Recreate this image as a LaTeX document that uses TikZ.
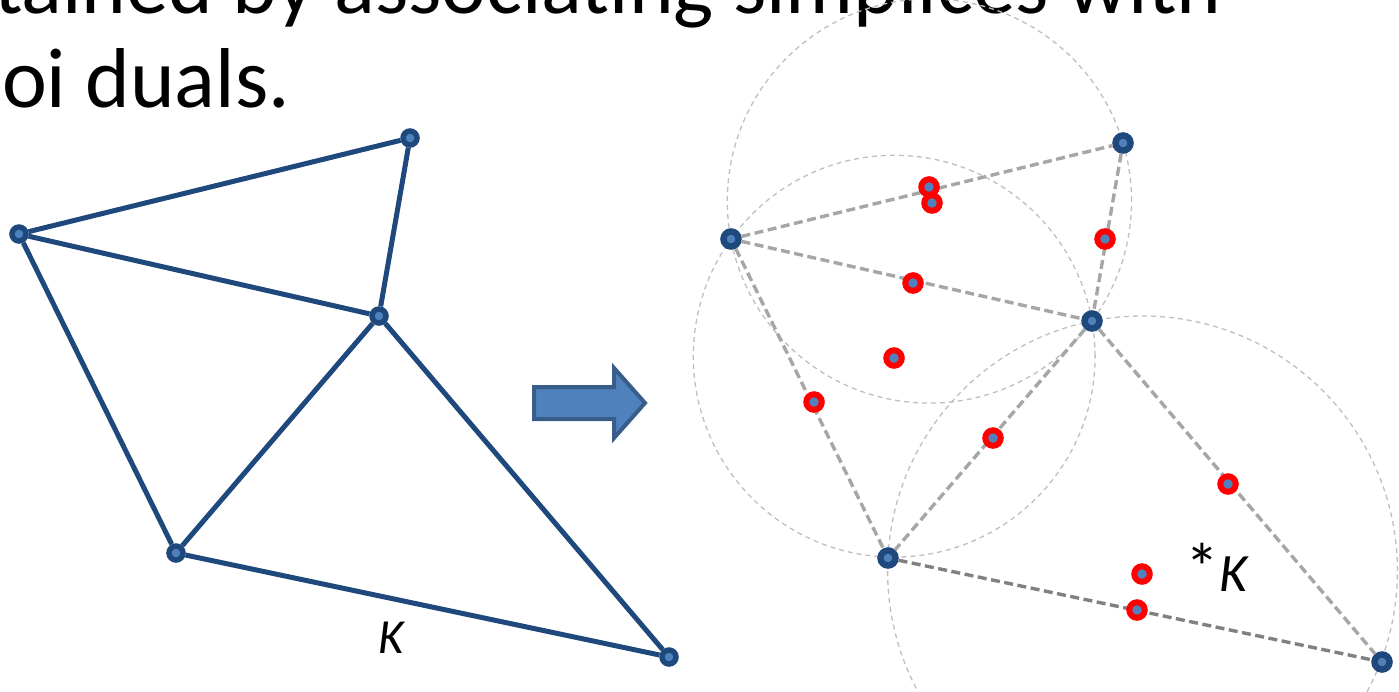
\documentclass[tikz,border=0pt]{standalone}
\usepackage{fontspec}
\setmainfont{Carlito}
\definecolor{vdark}{RGB}{31,73,125}
\definecolor{vfill}{RGB}{79,129,189}
\definecolor{arrowborder}{RGB}{56,93,138}
\definecolor{dgray}{RGB}{166,166,166}
\definecolor{ddgray}{RGB}{128,128,128}
\definecolor{lgray}{RGB}{191,191,191}
\tikzset{
  vtx/.style={circle, fill=vfill, draw=vdark, line width=5.5pt, minimum size=14pt, inner sep=0pt},
  rvtx/.style={vtx, line width=6.5pt, minimum size=15pt},
  cc/.style={circle, fill=vfill, draw=red, line width=6pt, minimum size=15.5pt, inner sep=0pt},
  kedge/.style={draw=vdark, line width=5pt},
  dedge/.style={draw=dgray, line width=3.4pt, dash pattern=on 9pt off 4.5pt},
  ddedge/.style={dedge, draw=ddgray},
  circ/.style={draw=lgray, line width=1.3pt, dash pattern=on 5pt off 4pt},
  bigtext/.style={inner sep=0pt, font=\fontsize{85}{85}\selectfont},
  lbl/.style={inner sep=0pt, font=\fontsize{49}{49}\selectfont},
  slbl/.style={inner sep=0pt, font=\fontsize{54}{54}\selectfont},
  blockarrow/.style={fill=vfill, draw=arrowborder, line width=4pt, line join=miter}
}
\begin{document}
\begin{tikzpicture}[x=1pt,y=-1pt]
\useasboundingbox (0,0) rectangle (1399,691);
\clip (0,0) rectangle (1399,691);

% title text (cropped)
\node[bigtext, anchor=base west] (t1) at (-6,13) {tained by associating simplices with};
\node[bigtext, anchor=base west] (t2) at (2,107) {oi duals.};

% ---------- left complex K ----------
\node[vtx] (a) at (410,138) {};
\node[vtx] (b) at (19,234) {};
\node[vtx] (c) at (379,316) {};
\node[vtx] (d) at (176,553) {};
\node[vtx] (e) at (669,657) {};
\draw[kedge] (b) -- (a);
\draw[kedge] (a) -- (c);
\draw[kedge] (b) -- (c);
\draw[kedge] (b) -- (d);
\draw[kedge] (c) -- (d);
\draw[kedge] (c) -- (e);
\draw[kedge] (d) -- (e);
\node[lbl, anchor=base] (klab) at (391,653) {\itshape K};

% ---------- block arrow ----------
\draw[blockarrow] (534,387) -- (614,387) -- (614,368) -- (645,403) -- (614,438) -- (614,419) -- (534,419) -- cycle;

% ---------- right: circumcircles ----------
\coordinate (o1) at (929.4,201.0);
\coordinate (o2) at (894.2,356.2);
\coordinate (o3) at (1142.5,570.9);
\draw[circ] (o1) circle[radius=202.1pt];
\draw[circ] (o2) circle[radius=200.9pt];
\draw[circ] (o3) circle[radius=254.9pt];

% vertices
\node[rvtx] (ra) at (1123,143) {};
\node[rvtx] (rb) at (731,239) {};
\node[rvtx] (rc) at (1092,321) {};
\node[rvtx] (rd) at (888,558) {};
\node[rvtx] (re) at (1382,662) {};
\draw[dedge] (rb) -- (ra);
\draw[dedge] (ra) -- (rc);
\draw[dedge] (rb) -- (rc);
\draw[dedge] (rb) -- (rd);
\draw[dedge] (rc) -- (rd);
\draw[dedge] (rc) -- (re);
\draw[ddedge] (rd) -- (re);

% dual points
\node[cc] (m1) at (929,187) {};
\node[cc] (c1) at (932,203) {};
\node[cc] (m2) at (1105,239) {};
\node[cc] (m3) at (913,283) {};
\node[cc] (c2) at (894,358) {};
\node[cc] (m4) at (814,402) {};
\node[cc] (m5) at (993,438) {};
\node[cc] (m6) at (1228,484) {};
\node[cc] (c3) at (1142,574) {};
\node[cc] (m7) at (1137,610) {};

\node[slbl, anchor=base] (sklab) at (1217,591) {{\fontsize{68}{68}\selectfont *}\textit{K}};
\end{tikzpicture}
\end{document}
